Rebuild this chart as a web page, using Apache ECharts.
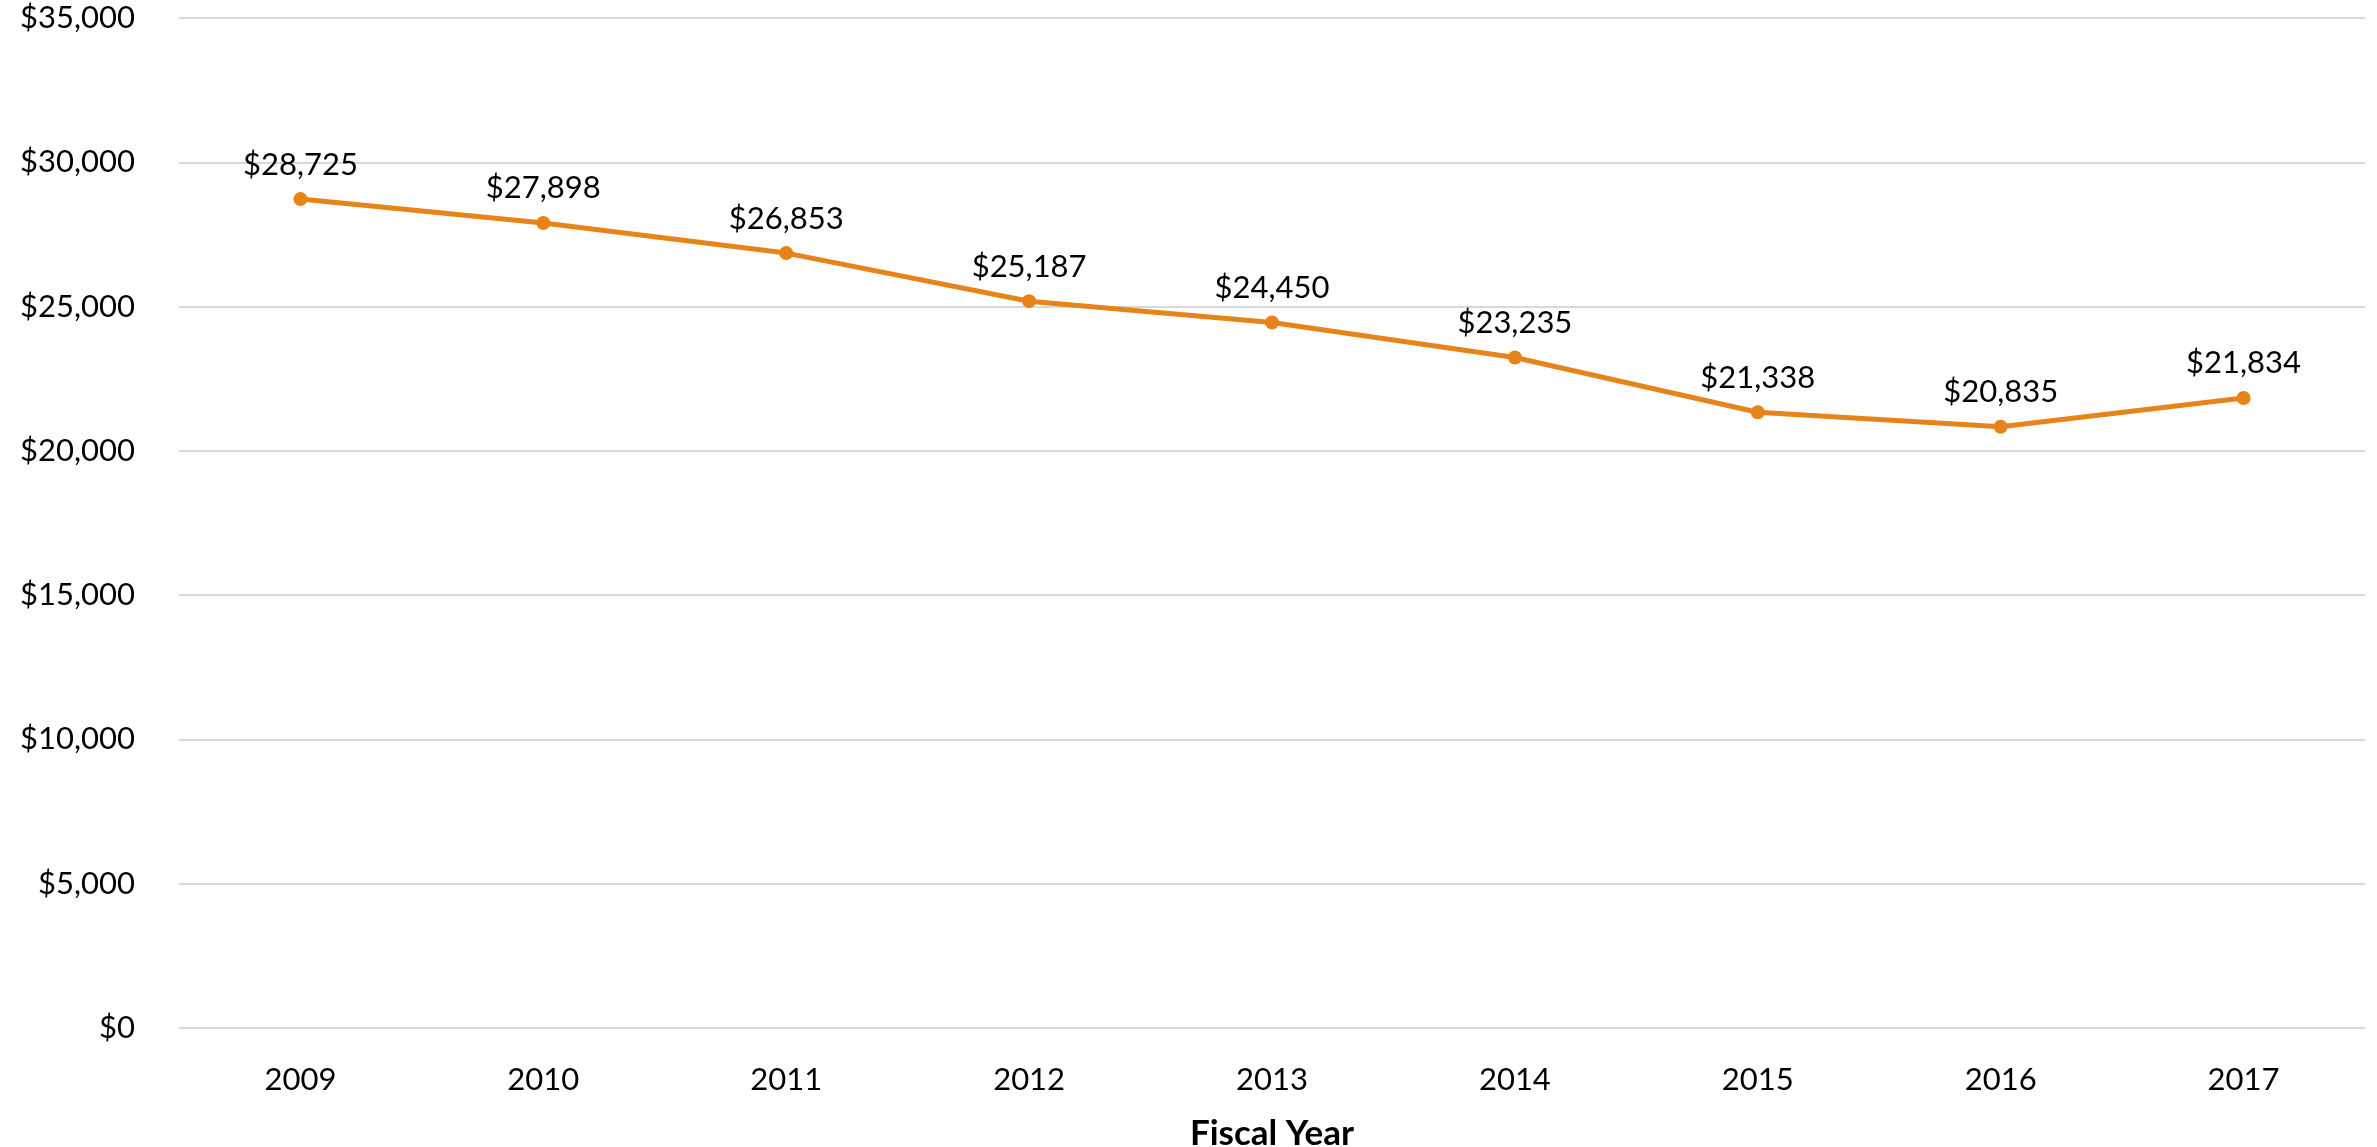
<!DOCTYPE html>
<html>
<head>
<meta charset="utf-8">
<script src="https://cdn.jsdelivr.net/npm/echarts@6/dist/echarts.min.js"></script>
<style>
  html, body { margin: 0; padding: 0; background: #ffffff; }
  #chart { width: 2377px; height: 1147px; }
</style>
</head>
<body>
<div id="chart"></div>
<script>
// Fiscal years on the category axis
const years = ['2009', '2010', '2011', '2012', '2013', '2014', '2015', '2016', '2017'];
// Amount per fiscal year (dollars)
const amounts = [28725, 27898, 26853, 25187, 24450, 23235, 21338, 20835, 21834];
// Value axis range and step
const yMin = 0;
const yMax = 35000;
const yStep = 5000;

const fontFamily = 'Lato, "Open Sans", "Noto Sans", sans-serif';
const money = v => '$' + Number(v).toLocaleString('en-US');

const chart = echarts.init(document.getElementById('chart'));
chart.setOption({
  backgroundColor: '#ffffff',
  animation: false,
  grid: { left: 179, right: 12, top: 18, bottom: 119, containLabel: false, outerBoundsMode: 'none' },
  xAxis: {
    type: 'category',
    data: years,
    boundaryGap: true,
    name: 'Fiscal Year',
    nameLocation: 'middle',
    nameGap: 88,
    nameTextStyle: { fontFamily, fontSize: 35, fontWeight: 'bold', color: '#000000' },
    axisLine: { show: false },
    axisTick: { show: false },
    axisLabel: { fontFamily, fontSize: 31, color: '#000000', margin: 36 }
  },
  yAxis: {
    type: 'value',
    min: yMin,
    max: yMax,
    interval: yStep,
    axisLine: { show: false },
    axisTick: { show: false },
    splitLine: { lineStyle: { color: '#d9d9d9', width: 2 } },
    axisLabel: { fontFamily, fontSize: 31, color: '#000000', margin: 44, formatter: money }
  },
  series: [{
    type: 'line',
    data: amounts,
    color: '#e6841a',
    lineStyle: { width: 5, color: '#e6841a' },
    symbol: 'circle',
    symbolSize: 14,
    itemStyle: { color: '#e6841a' },
    label: {
      show: true,
      position: 'top',
      distance: 12,
      fontFamily,
      fontSize: 31,
      color: '#000000',
      formatter: p => money(p.value)
    }
  }]
});
</script>
</body>
</html>
